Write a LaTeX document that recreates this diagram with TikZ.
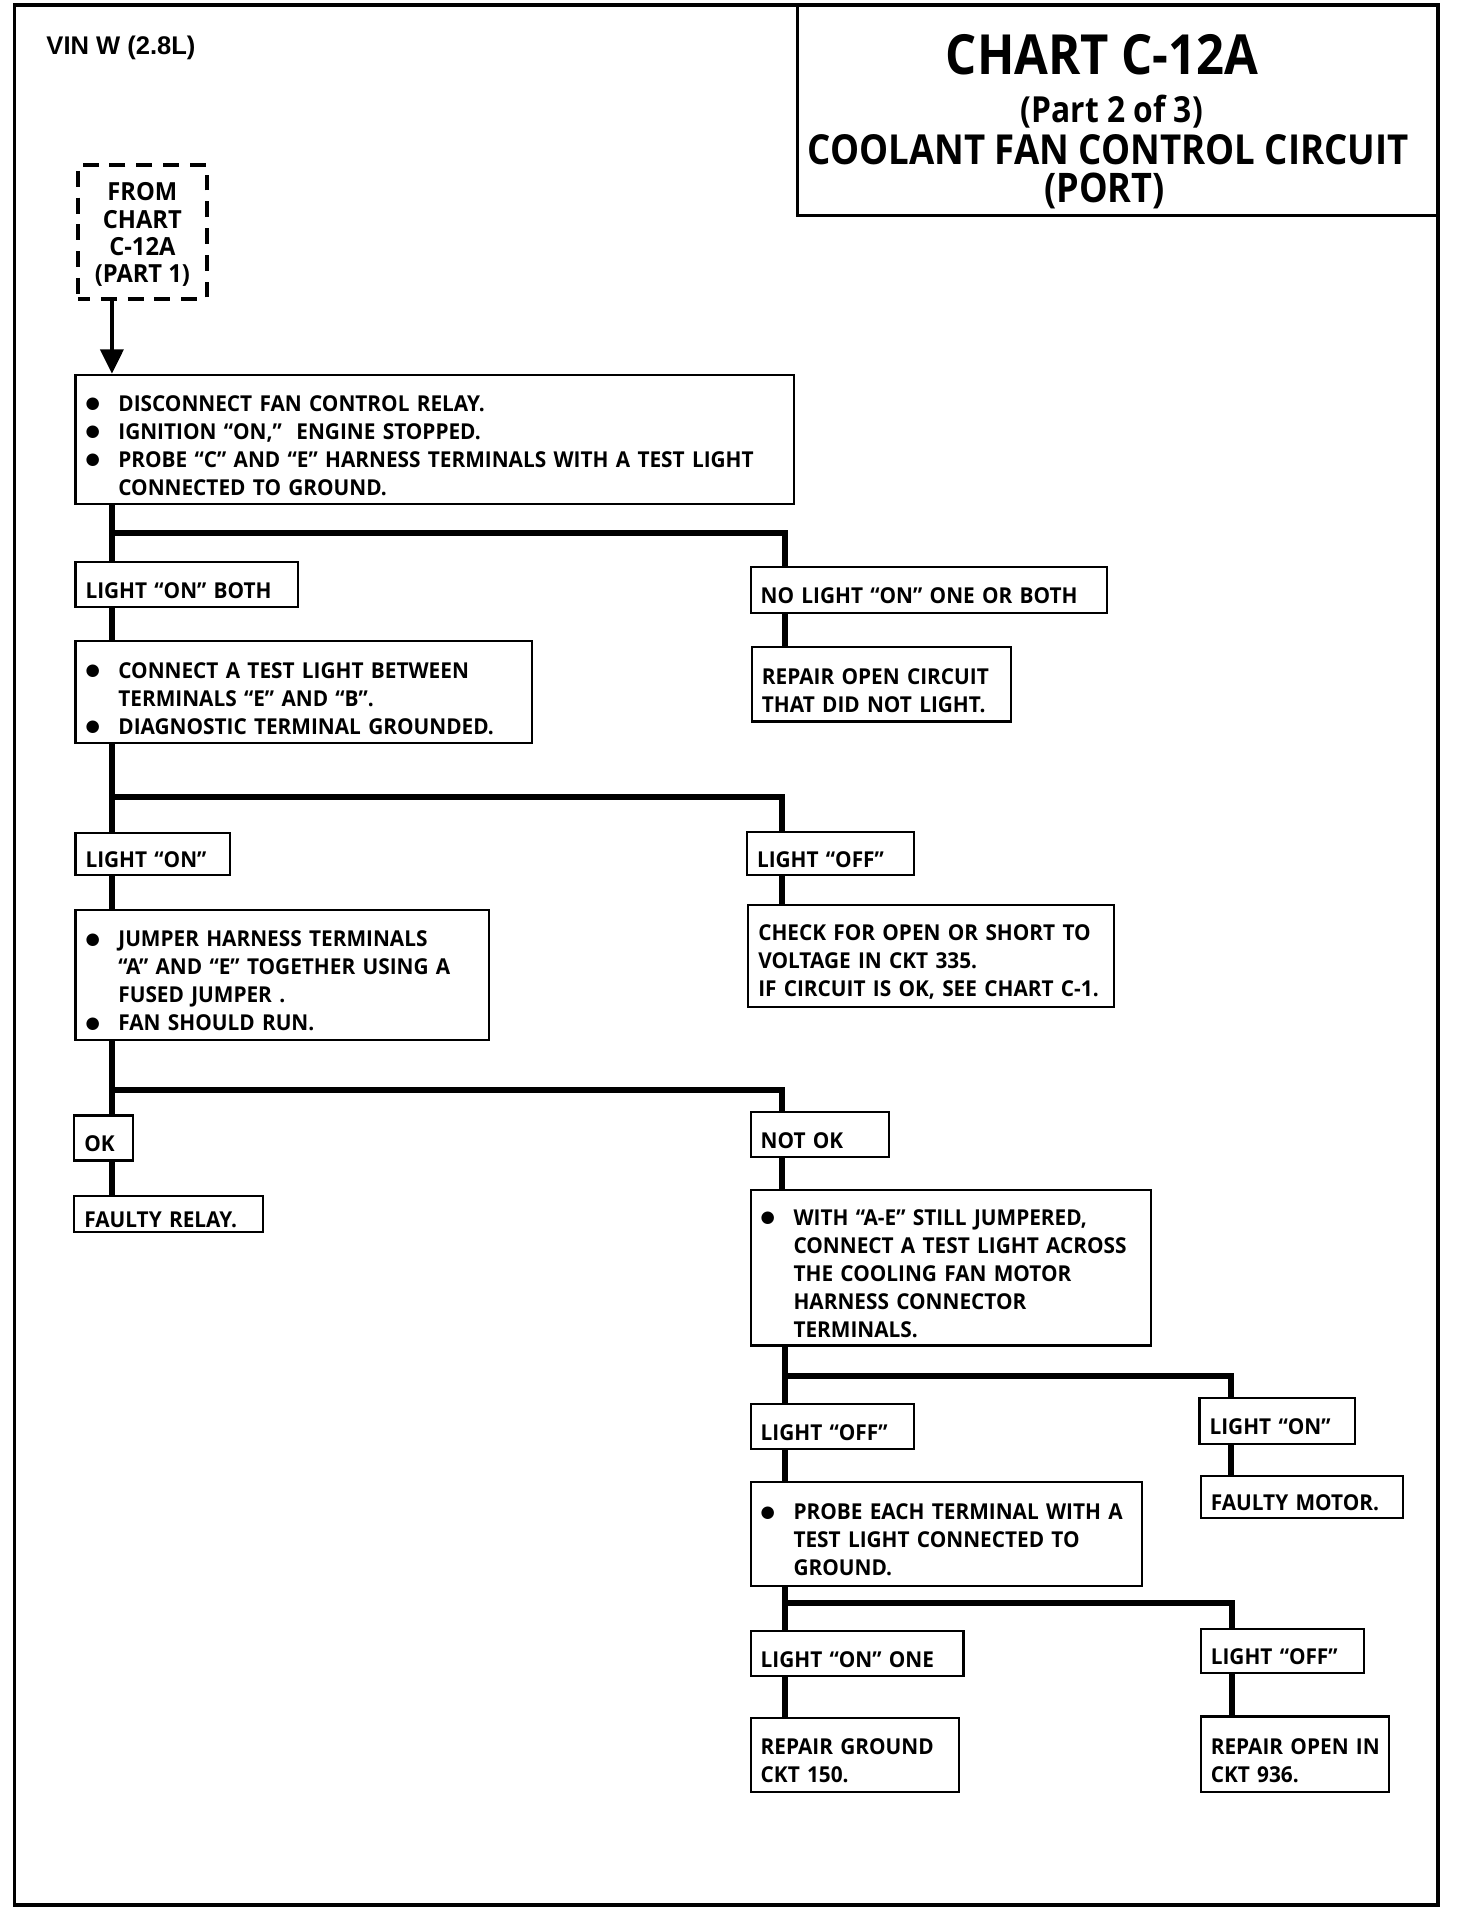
\documentclass[tikz,border=0pt]{standalone}
\usepackage{fontspec}
\setmainfont{Open Sans}[FakeStretch=0.95]
\newfontfamily\titlefont{Open Sans}[FakeStretch=0.885]
\newfontfamily\vinfont{Liberation Sans}
\newfontfamily\dejavu{DejaVu Sans}
\usetikzlibrary{arrows.meta}
\newcommand\mybox[6]{\node[box, minimum width={(#4-#2)*1pt}, minimum height={(#5-#3)*1pt}] (#1) at ({(#2+#4)/2},{(#3+#5)/2}) {};
  \node[txt, text width={(#4-#2)*1pt}] (#1t) at ([xshift=9pt,yshift=-5pt]#1.west) {#6};}
\newcommand\bul{\makebox[27pt][l]{\raisebox{2.3pt}{\dejavu\fontsize{13.5}{23}\selectfont ●}}}
\newcommand\ind{\hspace*{27pt}}
\begin{document}
\begin{tikzpicture}[x=1pt,y=-1pt,
  box/.style={draw, line width=1.8pt, inner sep=0pt},
  txt/.style={inner xsep=0pt, inner ysep=0pt, align=left, anchor=west,
    font=\bfseries\fontsize{18}{23}\selectfont},
  conn/.style={line width=5pt, line join=miter, line cap=butt},
  ttl/.style={inner sep=0pt, anchor=base, text depth=0pt}]
\useasboundingbox (0,0) rectangle (1210,1571.7);
% outer frame and title box
\draw[line width=2.8pt] (12,4) rectangle (1182,1566);
\node[draw, line width=2.5pt, minimum width=526pt, minimum height=173pt, inner sep=0pt] (tbox) at (918.5,90.5) {};
\node[font=\vinfont\bfseries\fontsize{21}{25}\selectfont, anchor=west, inner sep=0pt] (vin) at (38,39) {VIN W (2.8L)};
\node[ttl, font=\titlefont\bfseries\fontsize{45.5}{50}\selectfont] (t1) at (906,61) {CHART C-12A};
\node[ttl, font=\titlefont\bfseries\fontsize{29.5}{32}\selectfont] (t2) at (914,101) {(Part 2 of 3)};
\node[ttl, font=\titlefont\bfseries\fontsize{34}{36}\selectfont] (t3) at (911,135.5) {COOLANT FAN CONTROL CIRCUIT};
\node[ttl, font=\titlefont\bfseries\fontsize{33.5}{36}\selectfont] (t4) at (908,166.5) {(PORT)};
% start box
\node[draw, line width=3.3pt, dash pattern=on 13pt off 9pt, dash phase=3pt,
  minimum width=106pt, minimum height=110pt, inner sep=0pt] (from) at (117,190.5) {};
\node[inner sep=0pt, align=center, font=\bfseries\fontsize{20.5}{22.5}\selectfont] (fromt) at ([yshift=-2.5pt]from.center) {FROM\\CHART\\C-12A\\(PART 1)};
% boxes
\mybox{b1}{62}{308}{653}{414}{\bul DISCONNECT FAN CONTROL RELAY.\\\bul IGNITION “ON,”\ \ ENGINE STOPPED.\\\bul PROBE “C” AND “E” HARNESS TERMINALS WITH A TEST LIGHT\\\ind CONNECTED TO GROUND.}
\mybox{n1}{62}{462}{245}{499}{LIGHT “ON” BOTH}
\mybox{n2}{617}{466}{910}{504}{NO LIGHT “ON” ONE OR BOTH}
\mybox{r1}{618}{532}{831}{593}{REPAIR OPEN CIRCUIT\\THAT DID NOT LIGHT.}
\mybox{b2}{62}{527}{437}{611}{\bul CONNECT A TEST LIGHT BETWEEN\\\ind TERMINALS “E” AND “B”.\\\bul DIAGNOSTIC TERMINAL GROUNDED.}
\mybox{n3}{62}{685}{189}{719}{LIGHT “ON”}
\mybox{n4}{614}{684}{751}{719}{LIGHT “OFF”}
\mybox{r2}{615}{744}{916}{828}{CHECK FOR OPEN OR SHORT TO\\VOLTAGE IN CKT 335.\\IF CIRCUIT IS OK, SEE CHART C-1.}
\mybox{b3}{62}{748}{402}{855}{\bul JUMPER HARNESS TERMINALS\\\ind “A” AND “E” TOGETHER USING A\\\ind FUSED JUMPER .\\\bul FAN SHOULD RUN.}
\mybox{n5}{61}{917}{109}{954}{OK}
\mybox{n6}{617}{914}{731}{951}{NOT OK}
\mybox{r3}{61}{983}{216}{1013}{FAULTY RELAY.}
\mybox{b4}{617}{978}{946}{1106}{\bul WITH “A-E” STILL JUMPERED,\\\ind CONNECT A TEST LIGHT ACROSS\\\ind THE COOLING FAN MOTOR\\\ind HARNESS CONNECTOR\\\ind TERMINALS.}
\mybox{n7}{617}{1154}{751}{1191}{LIGHT “OFF”}
\mybox{n8}{986}{1149}{1114}{1187}{LIGHT “ON”}
\mybox{r4}{987}{1213}{1153}{1248}{FAULTY MOTOR.}
\mybox{b5}{617}{1218}{939}{1304}{\bul PROBE EACH TERMINAL WITH A\\\ind TEST LIGHT CONNECTED TO\\\ind GROUND.}
\mybox{n9}{617}{1341}{792}{1378}{LIGHT “ON” ONE}
\mybox{n10}{987}{1339}{1121}{1375}{LIGHT “OFF”}
\mybox{r5}{617}{1412}{788}{1473}{REPAIR GROUND\\CKT 150.}
\mybox{r6}{987}{1411}{1142}{1473}{REPAIR OPEN IN\\CKT 936.}
% junctions
\coordinate (j1) at (92,438); \coordinate (j1r) at (645,438);
\coordinate (j2) at (92,655); \coordinate (j2r) at (643,655);
\coordinate (j3) at (92,896); \coordinate (j3r) at (643,896);
\coordinate (j4) at (645,1131); \coordinate (j4r) at (1012,1131);
\coordinate (j5) at (645,1318); \coordinate (j5r) at (1013,1318);
% arrow
\draw[line width=3pt, -{Triangle[length=20pt,width=19pt]}] (from.south -| j1) -- (b1.north -| j1);
% connectors
\draw[conn] (b1.south -| j1) -- (n1.north -| j1);
\draw[conn] (j1) -- (j1r) -- (n2.north -| j1r);
\draw[conn] (n2.south -| j1r) -- (r1.north -| j1r);
\draw[conn] (n1.south -| j1) -- (b2.north -| j1);
\draw[conn] (b2.south -| j2) -- (n3.north -| j2);
\draw[conn] (j2) -- (j2r) -- (n4.north -| j2r);
\draw[conn] (n4.south -| j2r) -- (r2.north -| j2r);
\draw[conn] (n3.south -| j2) -- (b3.north -| j2);
\draw[conn] (b3.south -| j3) -- (n5.north -| j3);
\draw[conn] (j3) -- (j3r) -- (n6.north -| j3r);
\draw[conn] (n5.south -| j3) -- (r3.north -| j3);
\draw[conn] (n6.south -| j3r) -- (b4.north -| j3r);
\draw[conn] (b4.south -| j4) -- (n7.north -| j4);
\draw[conn] (j4) -- (j4r) -- (n8.north -| j4r);
\draw[conn] (n8.south -| j4r) -- (r4.north -| j4r);
\draw[conn] (n7.south -| j4) -- (b5.north -| j4);
\draw[conn] (b5.south -| j5) -- (n9.north -| j5);
\draw[conn] (j5) -- (j5r) -- (n10.north -| j5r);
\draw[conn] (n9.south -| j5) -- (r5.north -| j5);
\draw[conn] (n10.south -| j5r) -- (r6.north -| j5r);
\end{tikzpicture}
\end{document}
